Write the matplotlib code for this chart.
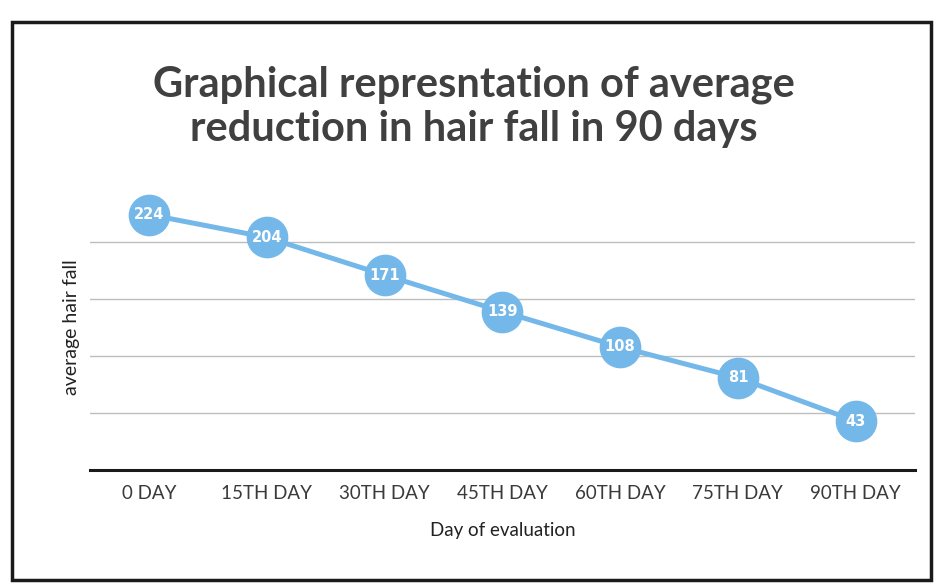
import matplotlib.pyplot as plt
from matplotlib.patches import Rectangle

# values
days = ['0 DAY', '15TH DAY', '30TH DAY', '45TH DAY', '60TH DAY', '75TH DAY', '90TH DAY']
hair_fall = [224, 204, 171, 139, 108, 81, 43]

plt.rcParams['font.family'] = ['Lato', 'DejaVu Sans']

fig = plt.figure(figsize=(9.39, 5.87), dpi=100)
fig.patch.set_facecolor('white')

# black frame around the whole chart
fig.add_artist(Rectangle((0.013, 0.012), 0.978, 0.950, transform=fig.transFigure,
                         fill=False, edgecolor='#1a1a1a', linewidth=2.5))

fig.text(0.505, 0.818, 'Graphical represntation of average\nreduction in hair fall in 90 days',
         ha='center', va='center', fontsize=30, fontweight='bold', color='#404040',
         linespacing=1.2)

ax = fig.add_axes([0.096, 0.199, 0.878, 0.486])
x = list(range(len(days)))
ax.plot(x, hair_fall, color='#74b8ea', linewidth=3.6, marker='o',
        markersize=29, markerfacecolor='#74b8ea', markeredgecolor='#74b8ea', zorder=3)
for xi, v in zip(x, hair_fall):
    ax.text(xi, v, str(v), ha='center', va='center', color='white',
            fontsize=10.5, fontweight='bold', family=['DejaVu Sans'], zorder=4)

ax.set_xlim(-0.5, 6.5)
ax.set_ylim(0, 250)
ax.set_yticks([50, 100, 150, 200])
ax.set_yticklabels([])
ax.tick_params(axis='y', length=0)
ax.grid(axis='y', color='#bdbdbd', linewidth=1)
ax.set_axisbelow(True)

ax.set_xticks(x)
ax.set_xticklabels(days, fontsize=13.5, color='#3a3a3a')
ax.tick_params(axis='x', length=0, pad=11)

for side in ['top', 'right', 'left']:
    ax.spines[side].set_visible(False)
ax.spines['bottom'].set_linewidth(2.2)
ax.spines['bottom'].set_color('#1a1a1a')

ax.set_xlabel('Day of evaluation', fontsize=13.5, color='#222222', labelpad=14)
ax.set_ylabel('average hair fall', fontsize=14, color='#222222', labelpad=4)

fig.savefig('out.png', dpi=100)
